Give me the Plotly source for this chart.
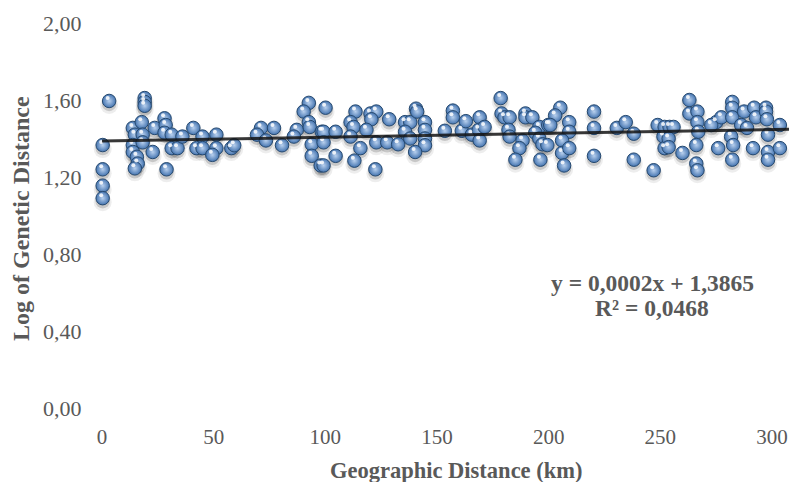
import numpy as np
import plotly.graph_objects as go

# Geographic distance (km) and log of genetic distance
geo_km = [
    3.2, 19.1, 19.1, 19.1, 0.3, 0.3, 0.3, 0.3, 13.8, 14.7, 13.8, 13.8, 15.6, 16.0, 17.8, 18.2, 18.2, 14.7,
    22.7, 23.6, 28.0, 28.5, 28.0, 31.2, 31.2, 33.8, 28.9, 36.0, 40.9, 45.0, 42.3, 45.0,
    51.2, 51.2, 49.4, 57.9, 59.2, 71.2, 77.0, 69.4, 73.4, 80.6, 87.2, 85.9, 92.6, 90.3, 92.6, 93.0,
    93.9, 93.9, 97.9, 98.4,
    100.1, 99.2, 99.2, 104.6, 104.6, 99.2, 113.5, 111.3, 112.6, 111.3, 113.0, 115.7, 120.2, 122.8,
    120.6, 118.4, 122.8, 122.4, 128.6, 127.7, 132.6, 135.7, 138.0, 135.7, 138.0, 140.6, 141.1,
    144.6, 144.6, 144.6, 144.6, 140.2,
    153.5, 157.1, 157.1, 161.1, 162.9, 165.6, 169.1, 168.7, 169.1, 171.3, 178.5, 178.9, 180.2, 182.5,
    182.0, 182.5, 188.3, 186.9, 185.1, 189.6, 189.6, 192.7, 195.8, 194.0, 195.8, 197.2, 196.3, 199.8,
    205.2, 202.9, 200.7, 209.2, 209.2, 206.0, 206.0, 209.2, 199.4, 206.9, 220.3, 220.3, 220.3, 230.5,
    234.5, 238.1, 238.1, 247.0, 248.8, 251.4, 251.9, 251.9,
    263.0, 263.0, 266.6, 266.6, 267.0, 254.1, 255.9, 253.7, 253.7, 259.9, 266.1, 266.1, 266.6, 275.9,
    275.0, 272.8, 277.3, 282.2, 282.2, 282.2, 281.7, 282.6, 282.2, 286.2, 288.8, 287.5, 292.0, 292.8,
    291.5, 297.3, 297.3, 297.7, 298.2, 298.2, 298.2, 303.5, 303.5,
]
log_gen = [
    1.595, 1.61, 1.59, 1.57, 1.366, 1.24, 1.155, 1.09, 1.455, 1.42, 1.366, 1.33, 1.305, 1.27, 1.485, 1.42, 1.38, 1.245,
    1.33, 1.455, 1.505, 1.47, 1.43, 1.42, 1.35, 1.35, 1.24, 1.41, 1.455, 1.41, 1.35, 1.35,
    1.42, 1.35, 1.315, 1.35, 1.365, 1.455, 1.455, 1.42, 1.39, 1.365, 1.445, 1.41, 1.585, 1.54, 1.485, 1.46,
    1.37, 1.31, 1.26, 1.435,
    1.56, 1.435, 1.38, 1.435, 1.31, 1.26, 1.54, 1.485, 1.46, 1.41, 1.285, 1.35, 1.53, 1.54,
    1.50, 1.445, 1.38, 1.24, 1.50, 1.38, 1.37, 1.485, 1.485, 1.435, 1.40, 1.555, 1.54,
    1.485, 1.445, 1.40, 1.365, 1.33,
    1.44, 1.545, 1.51, 1.44, 1.49, 1.42, 1.51, 1.445, 1.39, 1.46, 1.61, 1.53, 1.51, 1.51,
    1.445, 1.41, 1.39, 1.35, 1.29, 1.53, 1.51, 1.51, 1.46, 1.43, 1.40, 1.37, 1.29, 1.47,
    1.56, 1.52, 1.47, 1.485, 1.435, 1.39, 1.325, 1.35, 1.366, 1.26, 1.54, 1.455, 1.31, 1.455,
    1.485, 1.425, 1.29, 1.235, 1.47, 1.41, 1.35, 1.46,
    1.60, 1.53, 1.54, 1.485, 1.435, 1.46, 1.46, 1.40, 1.355, 1.325, 1.366, 1.27, 1.235, 1.35,
    1.485, 1.47, 1.51, 1.59, 1.56, 1.51, 1.41, 1.366, 1.29, 1.47, 1.455, 1.54, 1.56, 1.51,
    1.35, 1.56, 1.54, 1.50, 1.42, 1.33, 1.29, 1.47, 1.35,
]

trend_slope = 0.0002
trend_intercept = 1.3865
r_squared = 0.0468

x_ticks = [0, 50, 100, 150, 200, 250, 300]
y_ticks = [0.0, 0.4, 0.8, 1.2, 1.6, 2.0]
y_tick_labels = ["0,00", "0,40", "0,80", "1,20", "1,60", "2,00"]

W, H = 789, 482
ML, MR, MT, MB = 96, 0, 23, 74
x_range = [-2.69, 307.6]
y_range = [0.0, 2.0]
plot_w = W - ML - MR
plot_h = H - MT - MB
dx = (x_range[1] - x_range[0]) / plot_w   # data units per pixel
dy = (y_range[1] - y_range[0]) / plot_h

gx = np.array(geo_km)
gy = np.array(log_gen)

fig = go.Figure()

# soft drop shadows
fig.add_trace(go.Scatter(x=gx, y=gy - 4 * dy, mode="markers", hoverinfo="skip", cliponaxis=False,
                         marker=dict(size=18, color="rgba(0,0,0,0.07)", line=dict(width=0))))
fig.add_trace(go.Scatter(x=gx, y=gy - 3 * dy, mode="markers", hoverinfo="skip", cliponaxis=False,
                         marker=dict(size=14.5, color="rgba(0,0,0,0.16)", line=dict(width=0))))
# spheres
fig.add_trace(go.Scatter(x=gx, y=gy, mode="markers", cliponaxis=False,
                         marker=dict(size=13.5, color="#4474b0",
                                     gradient=dict(type="radial", color="#b8d0ee"),
                                     line=dict(width=1, color="#26496f"))))
# specular highlight
fig.add_trace(go.Scatter(x=gx - 1.5 * dx, y=gy + 3 * dy, mode="markers", hoverinfo="skip", cliponaxis=False,
                         marker=dict(size=4, color="rgba(255,255,255,0.85)", line=dict(width=0))))

# linear trend line
lx = np.array([0.0, x_range[1]])
fig.add_trace(go.Scatter(x=lx, y=trend_slope * lx + trend_intercept, mode="lines",
                         line=dict(color="rgba(20,20,20,0.85)", width=3), hoverinfo="skip"))

grey = "#595959"
font_fam = "Liberation Serif, Times New Roman, serif"

def px_to_paper_x(px):
    return (px - ML) / plot_w

def px_to_paper_y(py):
    return (H - MB - py) / plot_h

def label(px, py, text, size, angle=0):
    fig.add_annotation(x=px_to_paper_x(px), y=px_to_paper_y(py), xref="paper", yref="paper",
                       xanchor="center", yanchor="middle", showarrow=False, textangle=angle,
                       text=text, font=dict(family=font_fam, size=size, color=grey))

label(652, 283, "<b>y = 0,0002x + 1,3865</b>", 23.5)
label(652, 308, "<b>R² = " + f"{r_squared:.4f}".replace(".", ",") + "</b>", 23.5)
label(456, 470, "<b>Geographic Distance (km)</b>", 22.5)
label(21, 219, "<b>Log of Genetic Distance</b>", 24, angle=-90)

fig.update_layout(
    width=W, height=H,
    margin=dict(l=ML, r=MR, t=MT, b=MB, autoexpand=False),
    paper_bgcolor="white", plot_bgcolor="white",
    showlegend=False,
    font=dict(family=font_fam, color=grey, size=21),
    xaxis=dict(range=x_range, tickvals=x_ticks, showgrid=False, zeroline=False, showline=False,
               automargin=False, ticklabeloverflow="allow",
               ticks="outside", ticklen=10, tickcolor="rgba(0,0,0,0)",
               tickfont=dict(family=font_fam, size=21, color=grey)),
    yaxis=dict(range=y_range, tickvals=y_ticks, ticktext=y_tick_labels, showgrid=False, zeroline=False,
               automargin=False, ticklabeloverflow="allow",
               showline=False, ticks="outside", ticklen=9, tickcolor="rgba(0,0,0,0)",
               tickfont=dict(family=font_fam, size=22, color=grey)),
)

fig.write_html("out.html", config={"displayModeBar": False},
               post_script="document.body.style.margin='0';document.body.style.overflow='hidden';")
